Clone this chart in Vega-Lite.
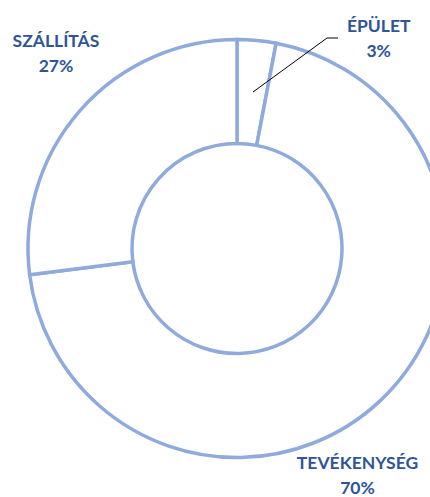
{
  "$schema": "https://vega.github.io/schema/vega-lite/v6.json",
  "width": 386,
  "height": 497,
  "autosize": {"type": "none"},
  "padding": {"left": 44, "top": 0, "right": 0, "bottom": 0},
  "background": "white",
  "config": {"view": {"stroke": null}},
  "data": {"values": [
    {"category": "ÉPÜLET", "value": 3, "idx": 1},
    {"category": "TEVÉKENYSÉG", "value": 70, "idx": 2},
    {"category": "SZÁLLÍTÁS", "value": 27, "idx": 3}
  ]},
  "transform": [
    {"stack": "value", "groupby": [], "sort": [{"field": "idx"}], "as": ["v0", "v1"]},
    {"calculate": "(datum.v0 + datum.v1) / 2", "as": "mid"},
    {"calculate": "[datum.category, datum.value + '%']", "as": "label"}
  ],
  "layer": [
    {
      "mark": {"type": "arc", "radius": 209, "radius2": 105, "fill": "white", "stroke": "#8FAADC", "strokeWidth": 3.5},
      "encoding": {
        "theta": {"field": "v0", "type": "quantitative", "scale": {"domain": [0, 100]}, "stack": null},
        "theta2": {"field": "v1"}
      }
    },
    {
      "transform": [{"filter": "datum.category == 'SZÁLLÍTÁS'"}],
      "mark": {"type": "text", "radius": 260, "dx": 14, "dy": -35, "font": "Lato", "fontSize": 17.5, "fontWeight": "bold", "lineHeight": 25, "color": "#2F5597", "align": "center", "baseline": "middle"},
      "encoding": {
        "theta": {"field": "mid", "type": "quantitative", "scale": {"domain": [0, 100]}, "stack": null},
        "text": {"field": "label"}
      }
    },
    {
      "transform": [{"filter": "datum.category == 'ÉPÜLET'"}],
      "mark": {"type": "text", "radius": 220, "dx": 121, "dy": -2, "font": "Lato", "fontSize": 17.5, "fontWeight": "bold", "lineHeight": 25, "color": "#2F5597", "align": "center", "baseline": "middle"},
      "encoding": {
        "theta": {"field": "mid", "type": "quantitative", "scale": {"domain": [0, 100]}, "stack": null},
        "text": {"field": "label"}
      }
    },
    {
      "transform": [{"filter": "datum.category == 'TEVÉKENYSÉG'"}],
      "mark": {"type": "text", "radius": 290, "dx": -78, "dy": 4, "font": "Lato", "fontSize": 17.5, "fontWeight": "bold", "lineHeight": 25, "color": "#2F5597", "align": "center", "baseline": "middle"},
      "encoding": {
        "theta": {"field": "mid", "type": "quantitative", "scale": {"domain": [0, 100]}, "stack": null},
        "text": {"field": "label"}
      }
    },
    {
      "transform": [{"filter": "datum.category == 'ÉPÜLET'"}],
      "mark": {"type": "rule", "color": "black", "strokeWidth": 1},
      "encoding": {
        "x": {"value": 209}, "y": {"value": 92},
        "x2": {"value": 283}, "y2": {"value": 38}
      }
    },
    {
      "transform": [{"filter": "datum.category == 'ÉPÜLET'"}],
      "mark": {"type": "rule", "color": "black", "strokeWidth": 1},
      "encoding": {
        "x": {"value": 283}, "y": {"value": 38},
        "x2": {"value": 294}, "y2": {"value": 38}
      }
    }
  ]
}
